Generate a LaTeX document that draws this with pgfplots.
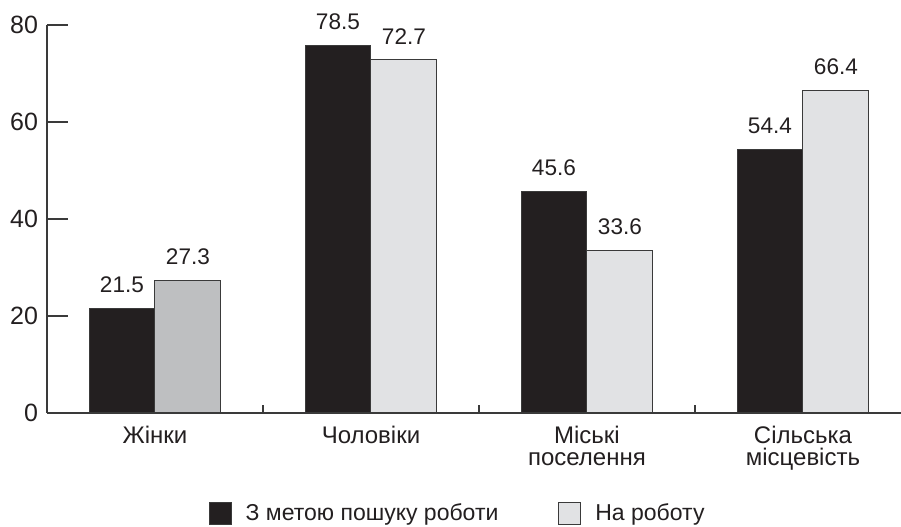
\documentclass[border=0pt]{standalone}
\usepackage{fontspec}
\setmainfont{Liberation Sans}
\usepackage{pgfplots}
\pgfplotsset{compat=1.18}
\definecolor{barblack}{HTML}{231F20}
\definecolor{barlight}{HTML}{E1E2E4}
\definecolor{bardark}{HTML}{BEBFC1}
\definecolor{edge}{HTML}{3A3A3A}
\definecolor{txt}{HTML}{231F20}
\pgfplotsset{sqlegend/.style={legend image code/.code={\draw[##1] (0pt,-5.5pt) rectangle (11pt,5.5pt);}}}

\begin{document}
\begin{tikzpicture}
\begin{axis}[
  name=ax,
  scale only axis,
  width=427pt, height=194pt,
  xmin=-0.5, xmax=3.454,
  ymin=0, ymax=80,
  clip=false,
  axis x line=bottom, axis y line=left,
  axis line style={-, draw=edge, line width=0.6pt},
  ytick={0,20,40,60,80},
  tick align=inside,
  major tick length=10.5pt,
  minor tick length=4pt,
  tick style={draw=edge, line width=0.6pt},
  xtick={0,1,2,3},
  xticklabels={Жінки, Чоловіки, Міські\\поселення, Сільська\\місцевість},
  major x tick style={draw=none},
  minor xtick={0.5,1.5,2.5},
  /pgf/number format/assume math mode=true,
  yticklabel style={font=\fontsize{12.5}{14}\selectfont, text=txt, xshift=-1pt},
  xticklabel style={font=\fontsize{12}{10.8}\selectfont, align=center, text=txt, yshift=-3pt},
  point meta=explicit symbolic,
  nodes near coords,
  nodes near coords style={font=\fontsize{11.3}{13}\selectfont, text=txt, yshift=4.3pt},
  legend columns=2,
  legend style={at={(0.482,-0.26)}, anchor=center, draw=none,
    font=\fontsize{11.5}{14}\selectfont, text=txt,
    /tikz/every odd column/.append style={column sep=5pt},
    /tikz/every even column/.append style={column sep=28pt}},
]
\addplot[ybar, bar width=0.305, bar shift=-0.1525, fill=barblack, draw=edge, line width=0.5pt, sqlegend,
  every node near coord/.append style={xshift=-16.5pt}]
  coordinates {(0,21.5) [21.5] (1,75.8) [78.5] (2,45.6) [45.6] (3,54.4) [54.4]};
\addlegendentry{З метою пошуку роботи}
\addplot[ybar, bar width=0.305, bar shift=0.1525, fill=barlight, draw=edge, line width=0.5pt, sqlegend,
  every node near coord/.append style={xshift=16.5pt}]
  coordinates {(1,72.8) [72.7] (2,33.6) [33.6] (3,66.4) [66.4]};
\addlegendentry{На роботу}
\addplot[ybar, bar width=0.305, bar shift=0.1525, fill=bardark, draw=edge, line width=0.5pt, forget plot,
  every node near coord/.append style={xshift=16.5pt}]
  coordinates {(0,27.3) [27.3]};
\end{axis}
\pgfresetboundingbox
\path ([xshift=-23.5pt,yshift=-57pt]ax.south west) rectangle ([yshift=12.5pt]ax.north east);
\end{tikzpicture}
\end{document}
